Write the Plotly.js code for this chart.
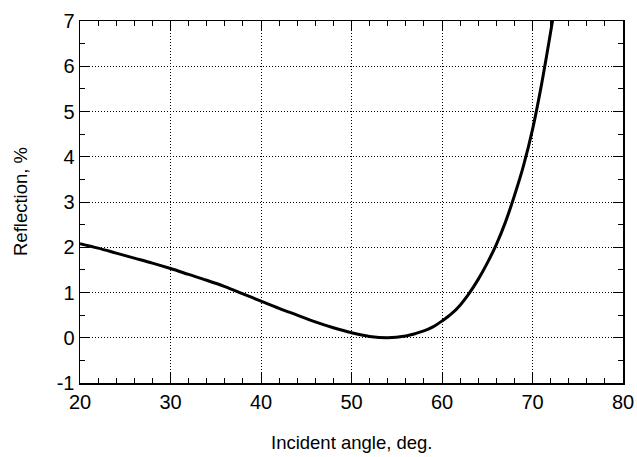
<!DOCTYPE html>
<html>
<head>
<meta charset="utf-8">
<script src="https://cdn.plot.ly/plotly-3.0.1.min.js"></script>
<style>html,body{margin:0;padding:0;background:#fff;}#chart{width:637px;height:457px;}</style>
</head>
<body>
<div id="chart"></div>
<script>
// Incident angle, deg.
const angle = [20, 22, 24, 26, 28, 30, 32, 34, 36, 38, 40, 42, 44, 46, 48, 50, 52, 54, 56, 57, 58, 59, 60, 61, 62, 63, 64, 65, 66, 67, 68, 69, 70, 71, 72, 72.25];
// Reflection, %
const reflection = [2.08, 1.98, 1.87, 1.76, 1.65, 1.53, 1.40, 1.27, 1.13, 0.97, 0.81, 0.65, 0.50, 0.35, 0.22, 0.11, 0.03, 0.0, 0.04, 0.09, 0.15, 0.24, 0.37, 0.52, 0.72, 0.98, 1.29, 1.65, 2.06, 2.55, 3.14, 3.80, 4.60, 5.60, 6.75, 7.05];

const xTickVals = [20, 30, 40, 50, 60, 70, 80];
const xTickText = ['20', '30', '40', '50', '60', '70', '80'];
const yTickVals = [-1, 0, 1, 2, 3, 4, 5, 6, 7];
const yTickText = ['-1', '0', '1', '2', '3', '4', '5', '6', '7'];
const xTitle = 'Incident angle, deg.';
const yTitle = 'Reflection, %';

const font = "Liberation Sans, Arial, sans-serif";

const trace = {
  x: angle, y: reflection, type: 'scatter', mode: 'lines',
  line: {color: '#000', width: 3, shape: 'spline', smoothing: 1},
  hoverinfo: 'skip'
};

const axisCommon = {
  showline: true, linecolor: '#000', linewidth: 1.5, mirror: 'allticks',
  ticks: 'inside', ticklen: 10, tickwidth: 1, tickcolor: '#000',
  showgrid: true, gridcolor: '#000', gridwidth: 1, griddash: '1px,2px',
  zeroline: false,
  tickfont: {family: font, size: 20, color: '#000'}
};

const W = 637, H = 457;
const M = {l: 80, r: 14, t: 21, b: 74};
const pw = W - M.l - M.r, ph = H - M.t - M.b;

const layout = {
  width: W, height: H,
  margin: M,
  paper_bgcolor: '#fff', plot_bgcolor: '#fff',
  showlegend: false,
  xaxis: Object.assign({}, axisCommon, {
    range: [20, 80], tickmode: 'array', tickvals: xTickVals, ticktext: xTickText,
    minor: {dtick: 2, ticks: 'inside', ticklen: 5, tickcolor: '#000', tickwidth: 1, showgrid: false}
  }),
  yaxis: Object.assign({}, axisCommon, {
    range: [-1, 7], tickmode: 'array', tickvals: yTickVals, ticktext: yTickText,
    minor: {dtick: 0.5, ticks: 'inside', ticklen: 5, tickcolor: '#000', tickwidth: 1, showgrid: false}
  }),
  annotations: [
    {text: xTitle, xref: 'paper', yref: 'paper', x: 0.5, y: (M.b - (H - 442)) / -ph - 0, xanchor: 'center', yanchor: 'middle',
     showarrow: false, font: {family: font, size: 18.5, color: '#000'}},
    {text: yTitle, xref: 'paper', yref: 'paper', x: (20 - M.l) / pw, y: 0.5, xanchor: 'center', yanchor: 'middle',
     textangle: -90, showarrow: false, font: {family: font, size: 18.5, color: '#000'}}
  ]
};

Plotly.newPlot('chart', [trace], layout, {displayModeBar: false, staticPlot: true});
</script>
</body>
</html>
